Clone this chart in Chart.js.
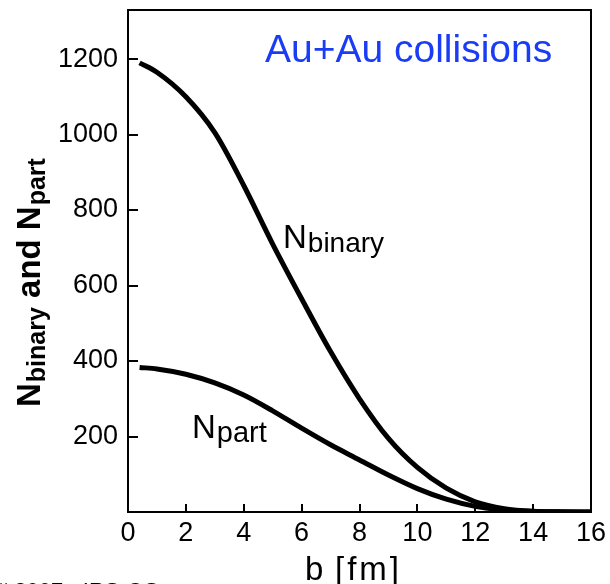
<!DOCTYPE html>
<html>
<head>
<meta charset="utf-8">
<script src="https://cdn.jsdelivr.net/npm/chart.js@4.4.1/dist/chart.umd.min.js"></script>
<style>
  html, body { margin: 0; padding: 0; background: #fff; }
  #wrap { width: 610px; height: 584px; }
</style>
</head>
<body>
<div id="wrap"><canvas id="myChart" width="610" height="584"></canvas></div>
<script>
/* impact parameter b [fm] */
const b_values = [0.4, 1, 2, 3, 4, 5, 6, 7, 8, 9, 10, 11, 12, 13, 14, 15, 16];

/* number of binary collisions */
const n_binary = [1190, 1165, 1100, 1005, 865, 710, 565, 425, 300, 195, 118, 63, 27, 9, 2, 0.5, 0];

/* number of participants */
const n_part = [383, 379, 365, 342, 310, 268, 222, 178, 138, 98, 62, 34, 15, 5, 1.5, 0.3, 0];

const x_ticks = [0, 2, 4, 6, 8, 10, 12, 14, 16];
const y_ticks = [0, 200, 400, 600, 800, 1000, 1200];

const FONT = '"Liberation Sans", Arial, Helvetica, sans-serif';

const toPoints = (xs, ys) => xs.map((x, i) => ({x: x, y: ys[i]}));

// N with a lowered, smaller suffix
function drawSub(ctx, x, y, main, sub, mainFont, subFont, dy) {
  ctx.font = mainFont;
  ctx.fillText(main, x, y);
  const w = ctx.measureText(main).width;
  ctx.font = subFont;
  ctx.fillText(sub, x + w + 1, y + dy);
  return x + w + 1 + ctx.measureText(sub).width;
}

const decorations = {
  id: 'decorations',
  afterDraw(chart) {
    const ctx = chart.ctx;
    const a = chart.chartArea;
    const xs = chart.scales.x, ys = chart.scales.y;
    ctx.save();
    ctx.strokeStyle = '#000';
    ctx.lineWidth = 2;
    ctx.strokeRect(a.left, a.top, a.right - a.left, a.bottom - a.top);

    // inward tick marks
    ctx.beginPath();
    x_ticks.forEach(v => {
      const px = Math.round(xs.getPixelForValue(v));
      if (v > 0 && v < 16) { ctx.moveTo(px, a.bottom); ctx.lineTo(px, a.bottom - 8); }
    });
    y_ticks.forEach(v => {
      const py = Math.round(ys.getPixelForValue(v));
      if (v > 0) { ctx.moveTo(a.left, py); ctx.lineTo(a.left + 10, py); }
    });
    ctx.stroke();

    ctx.fillStyle = '#1a3cf5';
    ctx.textAlign = 'left';
    ctx.textBaseline = 'alphabetic';
    ctx.font = '39px ' + FONT;
    ctx.fillText('Au+Au collisions', 265, 62);

    ctx.fillStyle = '#000';
    drawSub(ctx, 283, 248, 'N', 'binary', '33px ' + FONT, '28px ' + FONT, 4);
    drawSub(ctx, 192, 438, 'N', 'part', '33px ' + FONT, '29px ' + FONT, 4);

    // x axis title
    ctx.font = '33px ' + FONT;
    ctx.fillText('b', 305, 580);
    ctx.letterSpacing = '3px';
    ctx.fillText('[fm]', 335, 580);
    ctx.letterSpacing = '0px';

    // y axis title
    ctx.save();
    ctx.translate(40, 407);
    ctx.rotate(-Math.PI / 2);
    let cx = drawSub(ctx, 0, 0, 'N', 'binary', 'bold 33px ' + FONT, 'bold 25px ' + FONT, 5);
    ctx.font = 'bold 33px ' + FONT;
    ctx.fillText(' and ', cx, 0);
    cx += ctx.measureText(' and ').width;
    drawSub(ctx, cx, 0, 'N', 'part', 'bold 33px ' + FONT, 'bold 25px ' + FONT, 5);
    ctx.restore();

    ctx.font = '22px ' + FONT;
    ctx.fillText('# 2007 - IRS-QS', -4, 598);
    ctx.restore();
  }
};

const ctx = document.getElementById('myChart').getContext('2d');
const myChart = new Chart(ctx, {
  type: 'scatter',
  data: {
    datasets: [
      {
        label: 'Nbinary',
        data: toPoints(b_values, n_binary),
        showLine: true,
        borderColor: '#000',
        borderWidth: 5,
        pointRadius: 0,
        cubicInterpolationMode: 'monotone'
      },
      {
        label: 'Npart',
        data: toPoints(b_values, n_part),
        showLine: true,
        borderColor: '#000',
        borderWidth: 5,
        pointRadius: 0,
        cubicInterpolationMode: 'monotone'
      }
    ]
  },
  options: {
    responsive: false,
    animation: false,
    layout: { padding: { left: 0, top: 10, right: 19, bottom: 0 } },
    plugins: { legend: { display: false }, tooltip: { enabled: false } },
    scales: {
      x: {
        type: 'linear',
        min: 0,
        max: 16,
        grid: { display: false, drawTicks: false },
        border: { display: false },
        afterBuildTicks: s => { s.ticks = x_ticks.map(v => ({value: v})); },
        afterFit: s => { s.height = 72; s.paddingLeft = 0; s.paddingRight = 0; },
        ticks: {
          padding: 5,
          color: '#000',
          maxRotation: 0,
          font: { family: FONT, size: 27 }
        }
      },
      y: {
        type: 'linear',
        min: 0,
        max: 1330,
        grid: { display: false, drawTicks: false },
        border: { display: false },
        afterBuildTicks: s => { s.ticks = y_ticks.map(v => ({value: v})); },
        afterFit: s => { s.width = 128; s.paddingTop = 0; s.paddingBottom = 0; },
        ticks: {
          padding: 10,
          color: '#000',
          font: { family: FONT, size: 27 },
          callback: v => (v === 0 ? '' : String(v))
        }
      }
    }
  },
  plugins: [decorations]
});
</script>
</body>
</html>
